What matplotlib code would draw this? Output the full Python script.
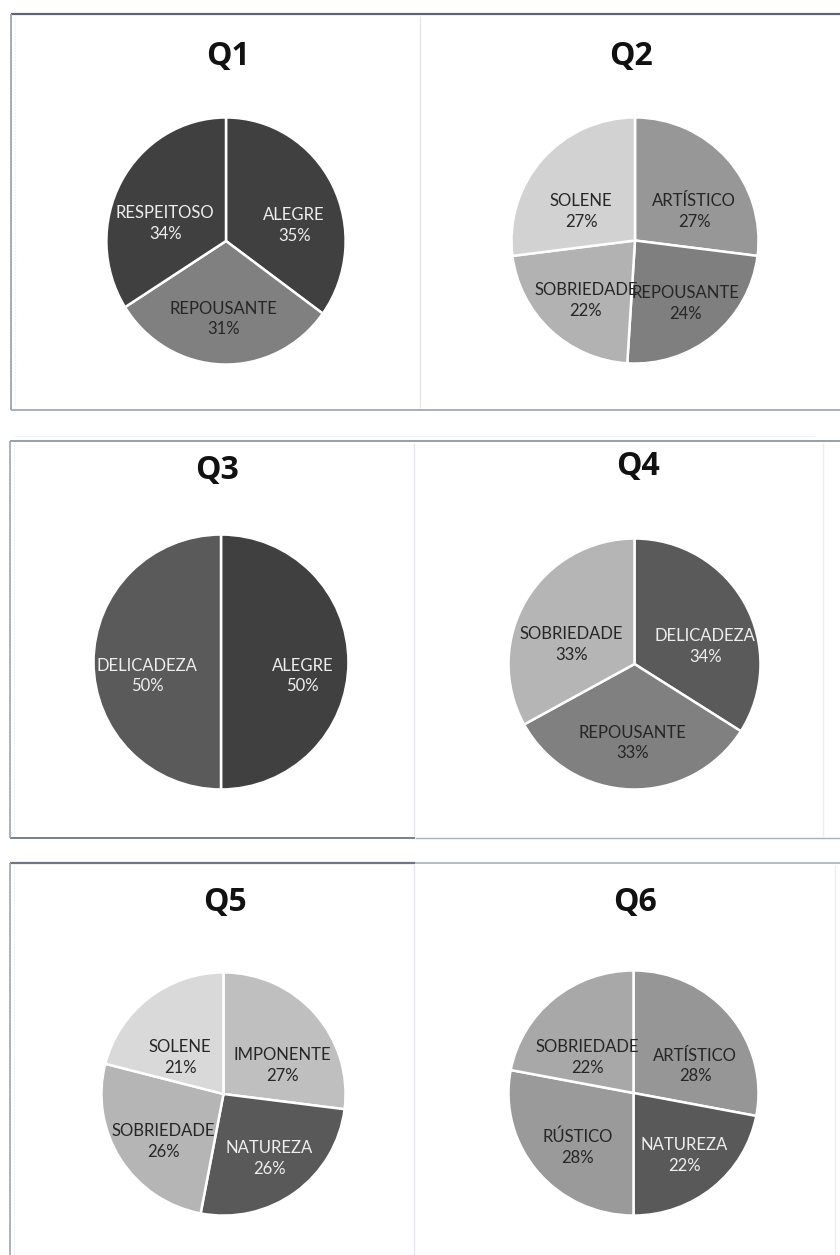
import numpy as np
import matplotlib
matplotlib.use("Agg")
import matplotlib.pyplot as plt

plt.rcParams['font.family'] = ['Lato', 'DejaVu Sans']

# dados de cada questão
titulos = ["Q1", "Q2", "Q3", "Q4", "Q5", "Q6"]

q1_labels = ["ALEGRE", "REPOUSANTE", "RESPEITOSO"]
q1_values = [35, 31, 34]
q2_labels = ["ARTÍSTICO", "REPOUSANTE", "SOBRIEDADE", "SOLENE"]
q2_values = [27, 24, 22, 27]
q3_labels = ["ALEGRE", "DELICADEZA"]
q3_values = [50, 50]
q4_labels = ["DELICADEZA", "REPOUSANTE", "SOBRIEDADE"]
q4_values = [34, 33, 33]
q5_labels = ["IMPONENTE", "NATUREZA", "SOBRIEDADE", "SOLENE"]
q5_values = [27, 26, 26, 21]
q6_labels = ["ARTÍSTICO", "NATUREZA", "RÚSTICO", "SOBRIEDADE"]
q6_values = [28, 22, 28, 22]

# tons de cinza por categoria
cores = {
    "Q1": ["#404040", "#808080", "#404040"],
    "Q2": ["#979797", "#7f7f7f", "#b2b2b2", "#d2d2d2"],
    "Q3": ["#404040", "#5a5a5a"],
    "Q4": ["#5a5a5a", "#808080", "#b5b5b5"],
    "Q5": ["#bfbfbf", "#595959", "#b5b5b5", "#d9d9d9"],
    "Q6": ["#969696", "#595959", "#9a9a9a", "#a8a8a8"],
}

todas_labels = [q1_labels, q2_labels, q3_labels, q4_labels, q5_labels, q6_labels]
todos_values = [q1_values, q2_values, q3_values, q4_values, q5_values, q6_values]

W, H = 840, 1255
fig = plt.figure(figsize=(W / 100, H / 100), dpi=100)
fig.patch.set_facecolor("white")

# eixo de fundo em pixels para as molduras
bg = fig.add_axes([0, 0, 1, 1])
bg.set_xlim(0, W)
bg.set_ylim(H, 0)
bg.axis("off")

def hline(y, x0, x1, c, lw=1.0):
    bg.plot([x0, x1], [y, y], color=c, lw=lw, solid_capstyle="butt")

def vline(x, y0, y1, c, lw=1.0, ls="-"):
    bg.plot([x, x], [y0, y1], color=c, lw=lw, ls=ls, solid_capstyle="butt")

# linha 1
hline(14, 11, W, "#5f6673", 1.6)
hline(410, 11, W, "#9aa2ae", 1.2)
vline(11, 14, 410, "#a3abb8", 1.4)
vline(15, 18, 406, "#e6e9ee", 0.8, ":")
vline(420, 16, 408, "#e4e7ec", 1.0)
# linha 2
hline(436, 15, 815, "#eef0f3", 0.8)
hline(441, 10, W, "#8e97a5", 1.3)
hline(838, 10, 415, "#6f7682", 1.3)
hline(838, 415, W, "#a8b0bb", 1.0)
vline(10, 441, 838, "#a3abb8", 1.3)
vline(14, 445, 834, "#e6e9ee", 0.8, ":")
vline(414, 443, 836, "#e4e7ec", 1.0)
vline(823, 443, 836, "#eceef2", 1.0)
# linha 3
hline(863, 10, 415, "#6f7682", 1.6)
hline(863, 415, W, "#a8b0bb", 1.2)
vline(10, 863, H, "#a3abb8", 1.3)
vline(14, 867, H, "#e6e9ee", 0.8, ":")
vline(414, 865, H, "#e4e7ec", 1.0)
vline(835, 865, H, "#eceef2", 1.0)

# caixas das pizzas (x0, x1, y0, y1) e posição dos títulos
caixas = [(104, 348, 115, 367), (509, 761, 115, 366),
          (91, 351, 532, 792), (506, 763, 536, 792),
          (99, 348, 970, 1218), (506, 761, 968, 1218)]
pos_titulos = [(228, 57), (631, 57), (217, 470), (638, 467), (225, 903), (635, 902)]

for i, tit in enumerate(titulos):
    x0, x1, y0, y1 = caixas[i]
    ax = fig.add_axes([x0 / W, 1 - y1 / H, (x1 - x0) / W, (y1 - y0) / H])
    cs = cores[tit]
    wedges, _ = ax.pie(todos_values[i], colors=cs, startangle=90, counterclock=False,
                       radius=1, wedgeprops=dict(edgecolor="white", linewidth=1.8))
    ax.set_aspect("auto")
    ax.set_xlim(-1.02, 1.02)
    ax.set_ylim(-1.02, 1.02)
    ax.axis("off")
    for w, lab, v, c in zip(wedges, todas_labels[i], todos_values[i], cs):
        ang = np.deg2rad((w.theta1 + w.theta2) / 2)
        fx = 0.64 if np.cos(ang) > 0 else 0.58
        tx, ty = fx * np.cos(ang), 0.52 * np.sin(ang) - 0.11
        lum = int(c[1:3], 16)
        tc = "#eeeeee" if lum < 0x70 else "#262626"
        ax.text(tx, ty, f"{lab}\n{v}%", ha="center", va="center", fontsize=12,
                color=tc, linespacing=1.35, multialignment="center")
    fig.text(pos_titulos[i][0] / W, 1 - pos_titulos[i][1] / H, tit, ha="center", va="center",
             fontsize=23, fontweight="bold", family=["Open Sans", "DejaVu Sans"], color="#111111")

fig.savefig("out.png", dpi=100, facecolor="white")
